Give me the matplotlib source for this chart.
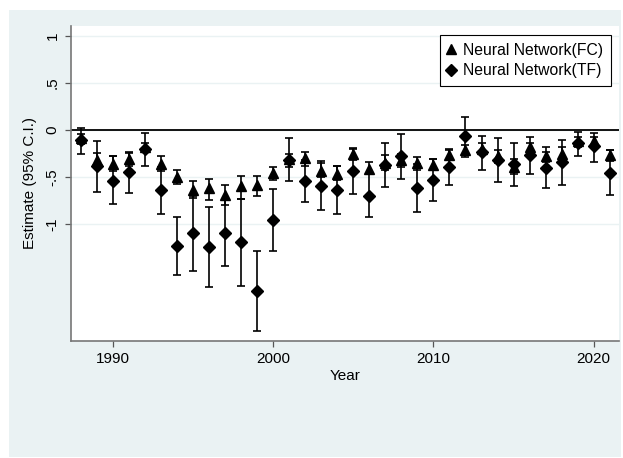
import matplotlib
matplotlib.use('Agg')
import matplotlib.pyplot as plt
import numpy as np

plt.rcParams['font.family'] = ['Liberation Sans', 'DejaVu Sans']

years = list(range(1988, 2022))

# Neural Network (FC): estimate, lower and upper 95% C.I.
fc_est = [-0.09, -0.32, -0.36, -0.31, -0.18, -0.36, -0.50, -0.64, -0.62, -0.69, -0.60, -0.585,
          -0.46, -0.31, -0.30, -0.44, -0.47, -0.26, -0.41, -0.35, -0.32, -0.355, -0.37, -0.27,
          -0.21, -0.20, -0.28, -0.39, -0.18, -0.28, -0.25, -0.12, -0.12, -0.27]
fc_lo = [-0.15, -0.40, -0.44, -0.38, -0.225, -0.44, -0.57, -0.72, -0.74, -0.80, -0.73, -0.70,
         -0.53, -0.39, -0.38, -0.50, -0.53, -0.32, -0.47, -0.43, -0.39, -0.43, -0.43, -0.32,
         -0.29, -0.26, -0.35, -0.47, -0.23, -0.34, -0.32, -0.18, -0.17, -0.33]
fc_hi = [-0.04, -0.24, -0.28, -0.24, -0.135, -0.28, -0.43, -0.54, -0.52, -0.585, -0.49, -0.49,
         -0.39, -0.25, -0.23, -0.35, -0.38, -0.20, -0.34, -0.27, -0.25, -0.29, -0.31, -0.21,
         -0.16, -0.14, -0.21, -0.31, -0.135, -0.23, -0.18, -0.07, -0.07, -0.21]

# Neural Network (TF)
tf_est = [-0.11, -0.38, -0.54, -0.45, -0.20, -0.64, -1.23, -1.10, -1.24, -1.09, -1.195, -1.71,
          -0.955, -0.32, -0.54, -0.59, -0.64, -0.435, -0.70, -0.375, -0.28, -0.62, -0.53, -0.39,
          -0.065, -0.235, -0.32, -0.365, -0.265, -0.40, -0.345, -0.14, -0.175, -0.455]
tf_lo = [-0.25, -0.656, -0.79, -0.67, -0.38, -0.89, -1.54, -1.50, -1.67, -1.45, -1.66, -2.135,
         -1.285, -0.54, -0.76, -0.85, -0.89, -0.68, -0.93, -0.61, -0.52, -0.875, -0.75, -0.58,
         -0.27, -0.42, -0.555, -0.60, -0.47, -0.62, -0.58, -0.28, -0.335, -0.69]
tf_hi = [0.025, -0.115, -0.28, -0.23, -0.03, -0.39, -0.92, -0.70, -0.815, -0.73, -0.73, -1.285,
         -0.63, -0.09, -0.315, -0.33, -0.38, -0.19, -0.47, -0.14, -0.04, -0.365, -0.31, -0.20,
         0.14, -0.06, -0.09, -0.135, -0.07, -0.18, -0.11, -0.025, -0.03, -0.215]

yticks = [1, 0.5, 0, -0.5, -1]
ytick_labels = ['1', '.5', '0', '-.5', '-1']
xticks = [1990, 2000, 2010, 2020]

bg = '#eaf2f3'

fig = plt.figure(figsize=(6.23, 4.58), dpi=100)
fig.patch.set_facecolor('white')
# stata graph region
fig.add_artist(plt.Rectangle((9/623, 1/458), 612/623, 447/458, transform=fig.transFigure,
                             facecolor=bg, edgecolor='none', zorder=-10))

ax = fig.add_axes([70.7/623, (458-340.7)/458, 548.6/623, 314.7/458])
ax.set_facecolor('white')

def errs(est, lo, hi):
    est = np.array(est)
    return np.vstack([est - np.array(lo), np.array(hi) - est])

ax.errorbar(years, fc_est, yerr=errs(fc_est, fc_lo, fc_hi), fmt='^', color='black',
            ms=7, elinewidth=1.2, capsize=3, capthick=1.2, label='Neural Network(FC)', zorder=3)
ax.errorbar(years, tf_est, yerr=errs(tf_est, tf_lo, tf_hi), fmt='D', color='black',
            ms=6.5, elinewidth=1.2, capsize=3, capthick=1.2, label='Neural Network(TF)', zorder=4)

ax.axhline(0, color='black', lw=1.3, zorder=2)

ax.set_xlim(1987.36, 2021.6)
ax.set_ylim(-2.24, 1.106)
ax.set_yticks(yticks)
ax.set_yticklabels(ytick_labels, rotation=90, va='center')
ax.set_xticks(xticks)
ax.tick_params(axis='both', labelsize=11, length=4, width=0.9, color='#555555', pad=4)
ax.yaxis.grid(True, color=bg, lw=1.0)
ax.set_axisbelow(True)

for s in ['top', 'right']:
    ax.spines[s].set_visible(False)
for s in ['left', 'bottom']:
    ax.spines[s].set_color('#777777')
    ax.spines[s].set_linewidth(1.2)

ax.set_xlabel('Year', fontsize=11, labelpad=2)
ax.set_ylabel('Estimate (95% C.I.)', fontsize=11, labelpad=6)

h, l = ax.get_legend_handles_labels()
h = [x[0] for x in h]
leg = ax.legend(h, l, loc='upper right', bbox_to_anchor=(0.985, 0.971), borderaxespad=0,
                fontsize=11.3, fancybox=False, edgecolor='black', framealpha=1,
                handletextpad=0.6, handlelength=0.35, borderpad=0.5, labelspacing=0.32)
leg.get_frame().set_linewidth(0.8)

fig.savefig('out.png', dpi=100, facecolor='white')
